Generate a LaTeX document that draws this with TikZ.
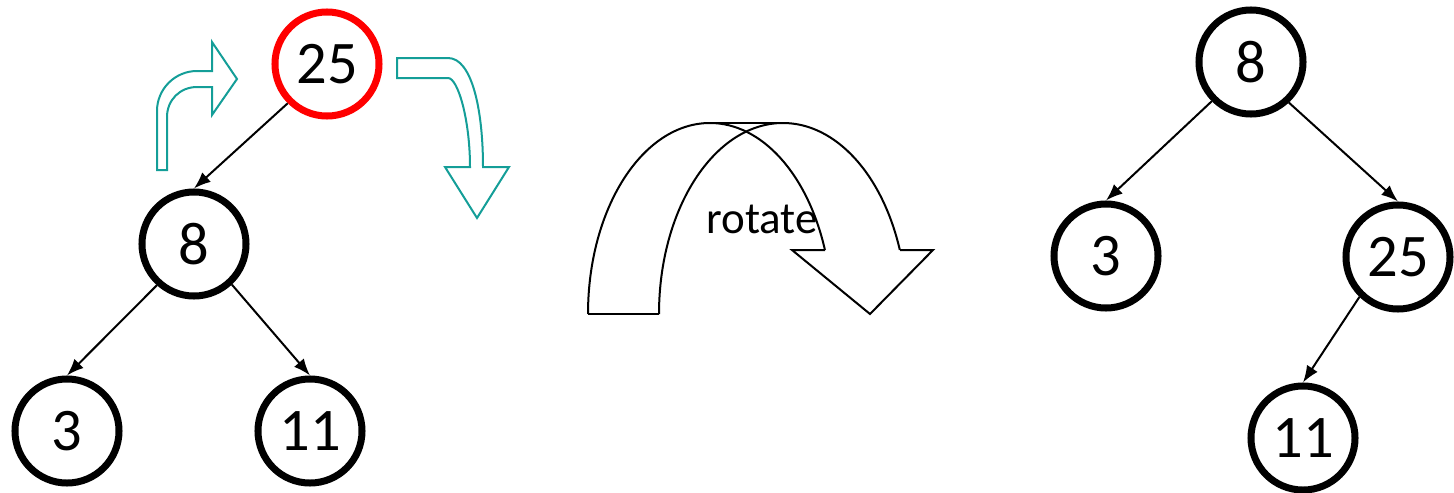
\documentclass[tikz,border=0pt]{standalone}
\usepackage{fontspec}
\setmainfont{Carlito}
\usetikzlibrary{arrows.meta}
\definecolor{turnteal}{RGB}{20,158,152}
\definecolor{rootred}{RGB}{255,0,0}

\begin{document}
\begin{tikzpicture}[
    x=0.025cm, y=-0.025cm,
    every node/.style={font=\fontsize{43}{43}\selectfont},
    tnode/.style={draw, circle, minimum size=2.6cm, inner sep=0pt, line width=0.175cm},
    pivot/.style={tnode, draw=rootred},
    link/.style={-{Latex[length=0.42cm, width=0.32cm]}, line width=0.05cm},
    turn/.style={draw=turnteal, line width=0.05cm, line join=miter},
    bigturn/.style={draw=black, line width=0.05cm, line join=miter},
    rotlbl/.style={font=\fontsize{32}{32}\selectfont}
]
\useasboundingbox (0,0) rectangle (1454,493);

% ===== Before: 25 is the root =====
\node[pivot] (a25) at (327,64) {25};
\node[tnode] (a8)  at (194,244) {8};
\node[tnode] (a3)  at (67,431) {3};
\node[tnode] (a11) at (310,431) {11};

\draw[link] (a25.225) -- (a8.north);
\draw[link] (a8.228)  -- (a3.north);
\draw[link] (a8.313)  -- (a11.north);

% ===== Turning arrows round the root =====
\draw[turn] (157,170) -- (157,111) .. controls (157,89) and (175,71) .. (197,71)
    -- (212,71) -- (212,42) -- (237,79) -- (212,115) -- (212,87) -- (197,87)
    .. controls (180,87) and (167,100) .. (167,117) -- (167,170) -- cycle;
\draw[turn] (397,58) -- (448,58) .. controls (472,58) and (483,110) .. (483,167)
    -- (509,167) -- (477,218) -- (445,167) -- (470,167)
    .. controls (470,120) and (458,78) .. (448,78) -- (397,78) -- cycle;

% ===== Rotate arrow =====
\draw[bigturn] (588,314) arc[start angle=180, end angle=340.4, x radius=122, y radius=191];
\draw[bigturn] (659,314) arc[start angle=180, end angle=340.4, x radius=124, y radius=191];
\draw[bigturn] (710,123) -- (783,123);
\draw[bigturn] (588,314) -- (659,314);
\draw[bigturn] (825,250) -- (792,250) -- (870,314) -- (933,250) -- (900,250);
\node[rotlbl, anchor=base] (rot) at (762,233) {rotate};

% ===== After: 8 is the root =====
\node[tnode] (b8)  at (1251,62) {8};
\node[tnode] (b3)  at (1106,256) {3};
\node[tnode] (b25) at (1398,257) {25};
\node[tnode] (b11) at (1303,438) {11};

\draw[link] (b8.225)  -- (b3.north);
\draw[link] (b8.313)  -- (b25.north);
\draw[link] (b25.226) -- (b11.north);

\end{tikzpicture}
\end{document}
